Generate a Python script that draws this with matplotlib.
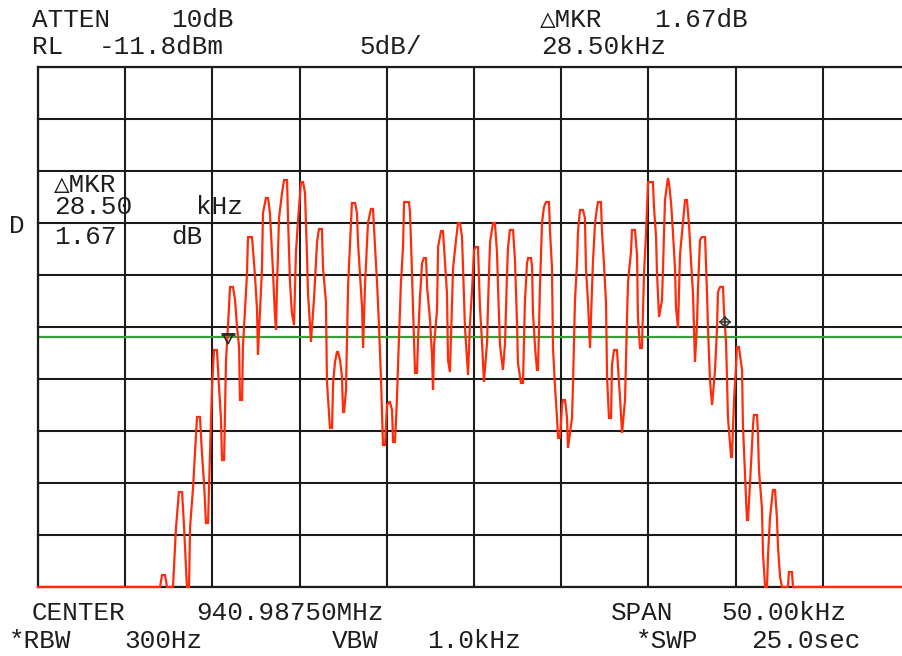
import matplotlib
matplotlib.use("Agg")
import matplotlib.pyplot as plt
import matplotlib.transforms as mtransforms
import numpy as np

# ---------------- data ----------------
center_mhz = 940.98750
span_khz = 50.0
ref_level_dbm = -11.8
db_per_div = 5.0
display_line_dbm = -37.73

freq_khz = [
    -25.00, -18.00, -17.89, -17.72, -17.60, -17.26, -17.09, -16.92, -16.74, -16.63,
    -16.46, -16.34, -16.28, -16.11, -16.00, -15.88, -15.71, -15.60, -15.48, -15.37,
    -15.25, -15.14, -15.02, -14.91, -14.74, -14.62, -14.51, -14.45, -14.33, -14.22,
    -14.11, -13.99, -13.82, -13.70, -13.59, -13.47, -13.42, -13.30, -13.25, -13.13,
    -13.02, -12.96, -12.73, -12.67, -12.56, -12.44, -12.39, -12.27, -12.16, -12.10,
    -11.93, -11.81, -11.70, -11.53, -11.41, -11.35, -11.30, -11.18, -11.01, -10.89,
    -10.72, -10.67, -10.55, -10.44, -10.32, -10.21, -10.09, -9.92, -9.80, -9.69,
    -9.58, -9.52, -9.35, -9.17, -9.00, -8.89, -8.72, -8.66, -8.49, -8.43,
    -8.26, -8.14, -8.08, -7.97, -7.86, -7.80, -7.68, -7.57, -7.51, -7.45,
    -7.34, -7.22, -7.11, -7.00, -6.82, -6.71, -6.65, -6.54, -6.42, -6.36,
    -6.25, -6.08, -5.91, -5.79, -5.68, -5.56, -5.45, -5.33, -5.22, -5.10,
    -4.99, -4.87, -4.82, -4.70, -4.64, -4.53, -4.42, -4.36, -4.19, -4.07,
    -4.01, -3.73, -3.67, -3.56, -3.50, -3.38, -3.27, -3.21, -3.10, -2.98,
    -2.87, -2.75, -2.69, -2.52, -2.41, -2.35, -2.29, -2.12, -2.06, -1.89,
    -1.78, -1.66, -1.55, -1.49, -1.38, -1.26, -1.20, -1.03, -0.92, -0.80,
    -0.69, -0.63, -0.52, -0.40, -0.34, -0.23, -0.11, 0.00, 0.11, 0.23,
    0.34, 0.46, 0.57, 0.75, 0.80, 0.92, 1.09, 1.20, 1.32, 1.38,
    1.49, 1.66, 1.78, 1.89, 1.95, 2.06, 2.24, 2.35, 2.47, 2.52,
    2.69, 2.81, 2.92, 3.04, 3.10, 3.27, 3.33, 3.38, 3.50, 3.61,
    3.67, 3.78, 3.90, 4.01, 4.13, 4.30, 4.36, 4.47, 4.53, 4.64,
    4.76, 4.82, 4.93, 5.05, 5.10, 5.22, 5.33, 5.39, 5.62, 5.68,
    5.79, 5.91, 5.96, 6.08, 6.25, 6.36, 6.42, 6.54, 6.59, 6.65,
    6.77, 6.82, 6.94, 7.05, 7.11, 7.28, 7.34, 7.45, 7.57, 7.63,
    7.74, 7.86, 7.91, 8.03, 8.20, 8.26, 8.37, 8.49, 8.66, 8.77,
    8.83, 9.00, 9.06, 9.23, 9.35, 9.40, 9.52, 9.63, 9.75, 9.86,
    9.98, 10.26, 10.32, 10.44, 10.49, 10.61, 10.78, 10.84, 10.95, 11.12,
    11.18, 11.30, 11.41, 11.53, 11.58, 11.70, 11.81, 11.98, 12.10, 12.21,
    12.33, 12.44, 12.56, 12.61, 12.67, 12.79, 12.84, 12.96, 13.07, 13.25,
    13.36, 13.42, 13.53, 13.65, 13.82, 13.93, 13.99, 14.11, 14.28, 14.33,
    14.45, 14.51, 14.56, 14.74, 14.79, 14.91, 15.02, 15.08, 15.19, 15.37,
    15.42, 15.54, 15.65, 15.71, 15.83, 16.00, 16.05, 16.23, 16.28, 16.34,
    16.51, 16.57, 16.69, 16.80, 16.86, 16.97, 17.14, 17.26, 17.37, 17.43,
    17.55, 17.66, 18.00, 18.06, 18.23, 18.29, 25.00,
]
level_dbm = [
    -61.80, -61.80, -60.65, -60.65, -61.80, -61.80, -56.13, -52.67, -52.67, -55.84,
    -61.80, -61.80, -56.03, -52.28, -48.92, -45.45, -45.45, -48.92, -51.80, -55.65,
    -55.65, -49.11, -42.57, -39.01, -39.01, -42.57, -45.55, -49.59, -49.59, -39.97,
    -36.80, -32.95, -32.95, -34.20, -36.80, -38.72, -43.82, -43.82, -38.72, -35.17,
    -31.80, -28.15, -28.15, -29.40, -31.80, -35.17, -39.49, -35.17, -31.32, -25.84,
    -24.40, -24.40, -25.84, -31.32, -35.84, -37.09, -33.05, -26.32, -23.92, -22.67,
    -22.67, -26.03, -32.57, -35.45, -36.61, -29.68, -26.51, -22.86, -22.86, -23.92,
    -29.68, -33.43, -38.24, -34.01, -28.63, -27.38, -27.38, -31.03, -34.40, -42.09,
    -46.51, -46.51, -42.18, -40.17, -39.20, -39.20, -39.97, -41.61, -44.97, -44.97,
    -42.86, -32.76, -28.92, -24.88, -24.88, -25.84, -28.72, -31.61, -34.88, -38.82,
    -32.76, -26.80, -25.45, -25.45, -28.92, -32.47, -36.61, -41.90, -48.15, -48.15,
    -44.30, -44.01, -44.01, -44.78, -47.86, -47.86, -43.82, -40.65, -32.57, -29.11,
    -24.78, -24.78, -25.74, -31.32, -34.88, -41.22, -41.22, -38.05, -34.01, -30.65,
    -30.17, -30.17, -32.95, -36.13, -39.49, -42.86, -38.53, -35.17, -29.11, -27.57,
    -27.57, -30.65, -33.53, -39.97, -41.13, -34.49, -31.13, -28.43, -26.80, -26.80,
    -28.15, -31.03, -36.80, -39.78, -41.42, -36.42, -33.24, -29.40, -29.11, -29.11,
    -34.88, -38.24, -42.09, -38.24, -34.88, -28.63, -26.80, -26.80, -29.68, -33.05,
    -38.53, -40.93, -38.34, -31.80, -29.20, -27.47, -27.47, -30.36, -36.61, -40.26,
    -42.18, -42.18, -34.40, -30.65, -30.17, -30.17, -31.03, -35.45, -38.72, -40.93,
    -40.93, -33.05, -26.80, -25.26, -24.78, -24.78, -27.67, -31.03, -38.82, -42.38,
    -45.55, -47.47, -47.47, -44.30, -43.82, -43.82, -45.45, -48.43, -45.55, -42.09,
    -34.20, -30.55, -27.67, -25.55, -25.55, -26.32, -31.13, -34.49, -36.42, -38.82,
    -33.05, -30.55, -26.80, -25.36, -24.78, -24.78, -27.67, -30.65, -34.49, -41.70,
    -45.55, -45.55, -40.45, -39.01, -39.01, -40.74, -43.53, -46.99, -43.82, -36.13,
    -32.47, -29.59, -27.47, -27.47, -29.88, -35.93, -38.82, -38.82, -31.61, -27.95,
    -22.86, -22.86, -25.26, -28.15, -31.51, -35.84, -34.20, -31.03, -24.59, -22.47,
    -22.95, -24.88, -27.76, -31.32, -34.88, -36.90, -29.88, -26.80, -24.59, -24.59,
    -26.99, -30.36, -33.72, -36.80, -40.17, -36.42, -33.24, -28.43, -28.15, -28.15,
    -33.53, -37.09, -41.90, -44.30, -40.93, -37.09, -33.43, -32.95, -32.95, -35.17,
    -38.24, -41.90, -45.45, -49.30, -49.30, -43.82, -40.74, -38.72, -38.72, -40.93,
    -46.22, -51.03, -55.36, -55.36, -51.70, -46.22, -45.26, -45.26, -46.99, -50.55,
    -54.20, -58.53, -61.80, -61.80, -58.72, -55.17, -52.47, -52.47, -55.17, -57.95,
    -60.84, -61.80, -61.80, -60.36, -60.36, -61.80, -61.80,
]

marker_ref = (-14.10, -37.95)
marker_delta = (14.40, -36.28)

# ---------------- figure ----------------
W, H = 903, 656
fig = plt.figure(figsize=(W / 100, H / 100), dpi=100)
fig.patch.set_facecolor("white")

L, R, T, B = 38, 910, 67, 587
ax = fig.add_axes([L / W, 1 - B / H, (R - L) / W, (B - T) / H])
ax.set_facecolor("white")
ax.set_xlim(-span_khz / 2, span_khz / 2)
ax.set_ylim(ref_level_dbm - 10 * db_per_div, ref_level_dbm)
ax.set_xticks(np.arange(-25, 25.1, 5))
ax.set_yticks(np.arange(ref_level_dbm - 50, ref_level_dbm + 0.1, 5))
ax.tick_params(length=0, labelbottom=False, labelleft=False)
ax.grid(True, color="#1c1c1c", linewidth=1.5)
ax.set_axisbelow(True)
for sp in ax.spines.values():
    sp.set_color("#1c1c1c")
    sp.set_linewidth(1.6)

ax.axhline(display_line_dbm, color="#3a9c3a", linewidth=1.6, zorder=2.5)

ax.plot(freq_khz, level_dbm, color="#ff2c0c", linewidth=1.6, zorder=3,
        clip_on=False, solid_joinstyle="miter")

# markers
ax.plot([marker_ref[0]], [marker_ref[1]], marker="v", ms=7, mfc="none",
        mec="#2a2a2a", mew=1.2, zorder=4)
bar_tr = mtransforms.offset_copy(ax.transData, fig=fig, x=0, y=3.8, units="points")
ax.plot([marker_ref[0]], [marker_ref[1]], marker="_", ms=10, mec="#2a2a2a",
        mew=2.0, zorder=4, transform=bar_tr)
ax.plot([marker_delta[0]], [marker_delta[1]], marker="D", ms=5, mfc="none",
        mec="#333333", mew=1.1, zorder=4)
ax.plot([marker_delta[0]], [marker_delta[1]], marker="+", ms=8, mec="#333333",
        mew=1.1, zorder=4)

# ---------------- texts ----------------
FAM = ["Liberation Mono", "DejaVu Sans Mono", "DejaVu Sans"]
FS = 18.7
TXT = "#1e1e1e"


def ftxt(px, py, s, **kw):
    fig.text(px / W, 1 - py / H, s, ha="left", va="baseline", fontsize=FS,
             family=FAM, color=TXT, **kw)


ftxt(32, 27, "ATTEN")
ftxt(171, 27, "10dB")
ftxt(540, 27, "\u25b3MKR")
ftxt(654, 27, "1.67dB")
ftxt(32, 54, "RL")
ftxt(99, 54, "-11.8dBm")
ftxt(359, 54, "5dB/")
ftxt(541, 54, "28.50kHz")

ftxt(9, 233, "D")
ftxt(54, 192, "\u25b3MKR")
ftxt(54, 214, "28.50")
ftxt(196, 214, "kHz")
ftxt(54, 244, "1.67")
ftxt(171, 244, "dB")

ftxt(32, 620, "CENTER")
ftxt(196, 620, "%.5fMHz" % center_mhz)
ftxt(611, 620, "SPAN")
ftxt(721, 620, "%.2fkHz" % span_khz)
ftxt(9, 648, "*RBW")
ftxt(124, 648, "300Hz")
ftxt(332, 648, "VBW")
ftxt(427, 648, "1.0kHz")
ftxt(636, 648, "*SWP")
ftxt(751, 648, "25.0sec")

fig.savefig("out.png", dpi=100, facecolor="white")
